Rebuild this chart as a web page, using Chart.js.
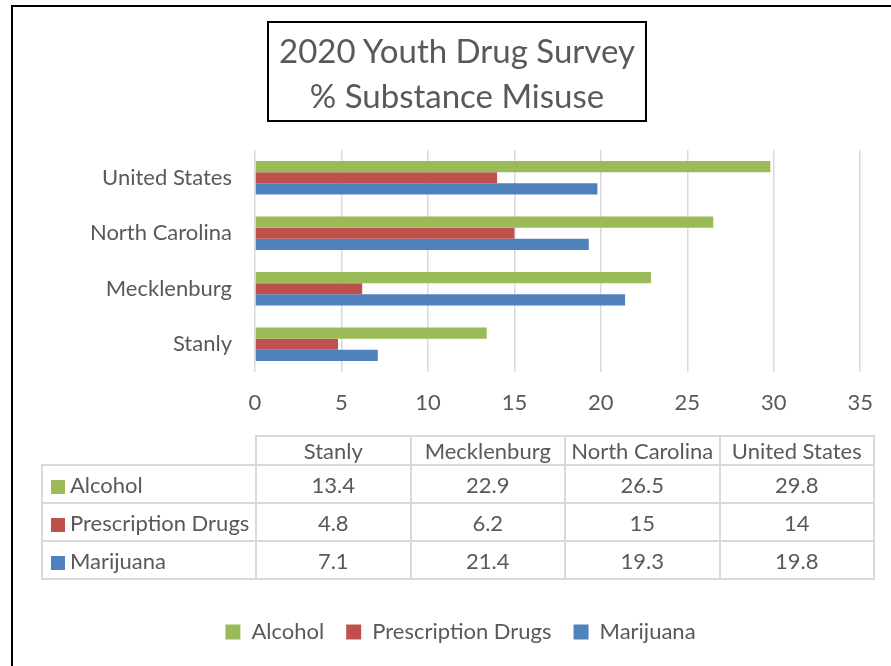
<!DOCTYPE html>
<html>
<head>
<meta charset="utf-8">
<script src="https://cdn.jsdelivr.net/npm/chart.js@4/dist/chart.umd.min.js"></script>
<style>
    body { margin: 0; background: #fff; font-family: Lato, sans-serif; color: #595959; }
    #pagina { position: relative; width: 891px; height: 666px; overflow: hidden; }
    #moldura { position: absolute; left: 11px; top: 5px; width: 900px; height: 700px; border: 2px solid #000; box-sizing: border-box; }
    #titulo { position: absolute; left: 267px; top: 21px; width: 380px; height: 101px; border: 2px solid #000; box-sizing: border-box;
              text-align: center; font-size: 33px; line-height: 45px; padding-top: 5px; color: #595959; }
    #grafico { position: absolute; left: 0; top: 0; }
    #tabela { position: absolute; left: 41px; top: 435px; width: 832px; table-layout: fixed; border-collapse: collapse; font-size: 22px; color: #595959; }
    #tabela td { border: 2px solid #d9d9d9; text-align: center; padding: 0; white-space: nowrap; }
    #tabela tr.cab td { height: 27px; }
    #tabela tr.linha td { height: 36px; }
    #tabela td.nome { text-align: left; padding-left: 8px; }
    #tabela td.vazio { border: none; border-right: 2px solid #d9d9d9; border-bottom: 2px solid #d9d9d9; }
    .quadrado { display: inline-block; width: 14px; height: 14px; margin-right: 5px; vertical-align: -1px; }
</style>
</head>
<body>
<div id="pagina">
    <div id="moldura"></div>
    <canvas id="grafico" width="891" height="666"></canvas>
    <div id="titulo">2020 Youth Drug Survey<br>% Substance Misuse</div>
    <table id="tabela"></table>
</div>
<script>
// Dados do gráfico
const regioes = ['Stanly', 'Mecklenburg', 'North Carolina', 'United States'];
const alcool = [13.4, 22.9, 26.5, 29.8];
const remedios = [4.8, 6.2, 15, 14];
const maconha = [7.1, 21.4, 19.3, 19.8];
const nomesSeries = ['Alcohol', 'Prescription Drugs', 'Marijuana'];
const coresSeries = ['#9BBB59', '#C0504D', '#4F81BD'];
const valoresSeries = [alcool, remedios, maconha];

const corTexto = '#595959';
const fonte = 'Lato, sans-serif';

// Montar a tabela de dados abaixo do gráfico
function montarTabela() {
    const tabela = document.getElementById('tabela');
    let html = '<colgroup><col style="width:214px">';
    regioes.forEach(() => { html += '<col style="width:154.5px">'; });
    html += '</colgroup><tr class="cab"><td class="vazio"></td>';
    regioes.forEach(r => { html += `<td>${r}</td>`; });
    html += '</tr>';
    nomesSeries.forEach((nome, i) => {
        html += `<tr class="linha"><td class="nome"><span class="quadrado" style="background:${coresSeries[i]}"></span>${nome}</td>`;
        valoresSeries[i].forEach(v => { html += `<td>${v}</td>`; });
        html += '</tr>';
    });
    tabela.innerHTML = html;
}
montarTabela();

const ctx = document.getElementById('grafico').getContext('2d');

new Chart(ctx, {
    type: 'bar',
    data: {
        labels: regioes,
        datasets: nomesSeries.map((nome, i) => ({
            label: nome,
            data: valoresSeries[i],
            backgroundColor: coresSeries[i],
            borderWidth: 0,
            barPercentage: 1,
            categoryPercentage: 0.6
        }))
    },
    options: {
        indexAxis: 'y',
        responsive: false,
        animation: false,
        layout: {
            // padding esquerdo centraliza a legenda como no original
            padding: { top: 150, right: 30, bottom: 13, left: 60 }
        },
        scales: {
            x: {
                min: 0,
                max: 35,
                ticks: { stepSize: 5, color: corTexto, font: { family: fonte, size: 22 }, padding: 18 },
                grid: { color: '#d9d9d9', lineWidth: 1.5, drawTicks: false },
                border: { display: false },
                afterFit: function(scale) { scale.height = 227; }
            },
            y: {
                reverse: true,
                ticks: { color: corTexto, font: { family: fonte, size: 22 }, padding: 23 },
                grid: { display: false, drawTicks: false },
                border: { display: false },
                afterFit: function(scale) { scale.width = 195; }
            }
        },
        plugins: {
            legend: {
                position: 'bottom',
                labels: {
                    boxWidth: 15,
                    boxHeight: 15,
                    padding: 22,
                    color: corTexto,
                    font: { family: fonte, size: 22 }
                }
            },
            tooltip: { enabled: false }
        }
    }
});
</script>
</body>
</html>
